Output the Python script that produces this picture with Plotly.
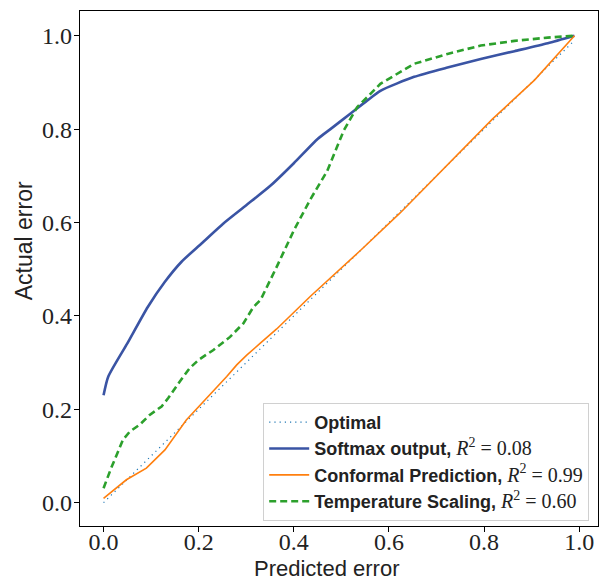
import plotly.graph_objects as go

# ---- data ----
x_opt = [0.0, 0.99]
y_opt = [0.0, 0.99]

x_soft = [0.0, 0.01, 0.05, 0.093, 0.129, 0.164, 0.206, 0.252, 0.30, 0.35, 0.40, 0.45,
          0.477, 0.52, 0.554, 0.582, 0.653, 0.723, 0.793, 0.864, 0.934, 0.99]
y_soft = [0.23, 0.27, 0.341, 0.419, 0.473, 0.516, 0.555, 0.598, 0.637, 0.678, 0.727,
          0.779, 0.80, 0.834, 0.861, 0.882, 0.912, 0.932, 0.95, 0.967, 0.984, 1.0]

x_conf = [0.0, 0.048, 0.09, 0.129, 0.174, 0.22, 0.259, 0.28, 0.301, 0.329, 0.364,
          0.435, 0.54, 0.624, 0.70, 0.818, 0.906, 0.99]
y_conf = [0.009, 0.049, 0.074, 0.113, 0.177, 0.227, 0.27, 0.295, 0.316, 0.341, 0.372,
          0.442, 0.54, 0.621, 0.70, 0.822, 0.905, 1.0]

x_temp = [0.0, 0.016, 0.041, 0.055, 0.076, 0.097, 0.122, 0.136, 0.16, 0.181, 0.20,
          0.231, 0.266, 0.294, 0.315, 0.33, 0.364, 0.40, 0.435, 0.47, 0.505, 0.533,
          0.554, 0.582, 0.653, 0.723, 0.793, 0.864, 0.934, 0.99]
y_temp = [0.031, 0.074, 0.135, 0.152, 0.167, 0.188, 0.206, 0.224, 0.259, 0.288, 0.306,
          0.327, 0.355, 0.384, 0.419, 0.434, 0.505, 0.583, 0.65, 0.71, 0.797, 0.847,
          0.868, 0.897, 0.94, 0.961, 0.979, 0.989, 0.996, 1.0]

tick_vals = [0.0, 0.2, 0.4, 0.6, 0.8, 1.0]
tick_text = ["0.0", "0.2", "0.4", "0.6", "0.8", "1.0"]

names = ["Optimal", "Softmax output", "Conformal Prediction", "Temperature Scaling"]
r2 = [None, "0.08", "0.99", "0.60"]

SERIF = "Liberation Serif"
SANS = "Liberation Sans"


def label(i):
    if r2[i] is None:
        return "<b>%s</b>" % names[i]
    return ("<b>%s,</b> <span style=\"font-family:%s;font-size:20px\">"
            "<i>R</i><sup>2</sup> = %s</span>") % (names[i], SERIF, r2[i])


fig = go.Figure()
fig.add_trace(go.Scatter(x=x_opt, y=y_opt, mode="lines", name=label(0),
                         line=dict(color="#1f77b4", width=1.2, dash="1.2px,4px")))
fig.add_trace(go.Scatter(x=x_soft, y=y_soft, mode="lines", name=label(1),
                         line=dict(color="#3a54a4", width=2.6, shape="spline",
                                   smoothing=0.6)))
fig.add_trace(go.Scatter(x=x_conf, y=y_conf, mode="lines", name=label(2),
                         line=dict(color="#ff7f0e", width=1.6)))
fig.add_trace(go.Scatter(x=x_temp, y=y_temp, mode="lines", name=label(3),
                         line=dict(color="#2ca02c", width=2.6, dash="7px,4px")))

axis_common = dict(
    showline=True, linecolor="black", linewidth=1.2, mirror=True,
    ticks="outside", ticklen=5, tickwidth=1, tickcolor="black",
    showgrid=False, zeroline=False,
    tickvals=tick_vals, ticktext=tick_text,
    tickfont=dict(family=SERIF, size=24, color="#222222"),
)

fig.update_layout(
    width=607, height=582,
    margin=dict(l=80, r=9, t=11, b=56),
    paper_bgcolor="white", plot_bgcolor="white",
    xaxis=dict(range=[-0.0495, 1.0395], ticklabelstandoff=-11, **axis_common),
    yaxis=dict(range=[-0.05, 1.053], ticklabelstandoff=-3, **axis_common),
    legend=dict(
        x=0.983, y=0.01, xanchor="right", yanchor="bottom",
        bgcolor="rgba(255,255,255,0.8)", bordercolor="#d0d0d0", borderwidth=1,
        font=dict(family=SANS, size=18, color="#222222"),
        itemwidth=40, tracegroupgap=0,
    ),
    showlegend=True,
    annotations=[
        dict(text="Predicted error", xref="paper", yref="paper", x=0.477, y=-0.0825,
             xanchor="center", yanchor="middle", showarrow=False,
             font=dict(family=SANS, size=22, color="#222222")),
        dict(text="Actual error", xref="paper", yref="paper", x=-0.108, y=0.553,
             xanchor="center", yanchor="middle", showarrow=False, textangle=-90,
             font=dict(family=SANS, size=23, color="#222222")),
    ],
)

fig.write_html("out.html", config={"displayModeBar": False},
               post_script="document.body.style.margin='0';")
